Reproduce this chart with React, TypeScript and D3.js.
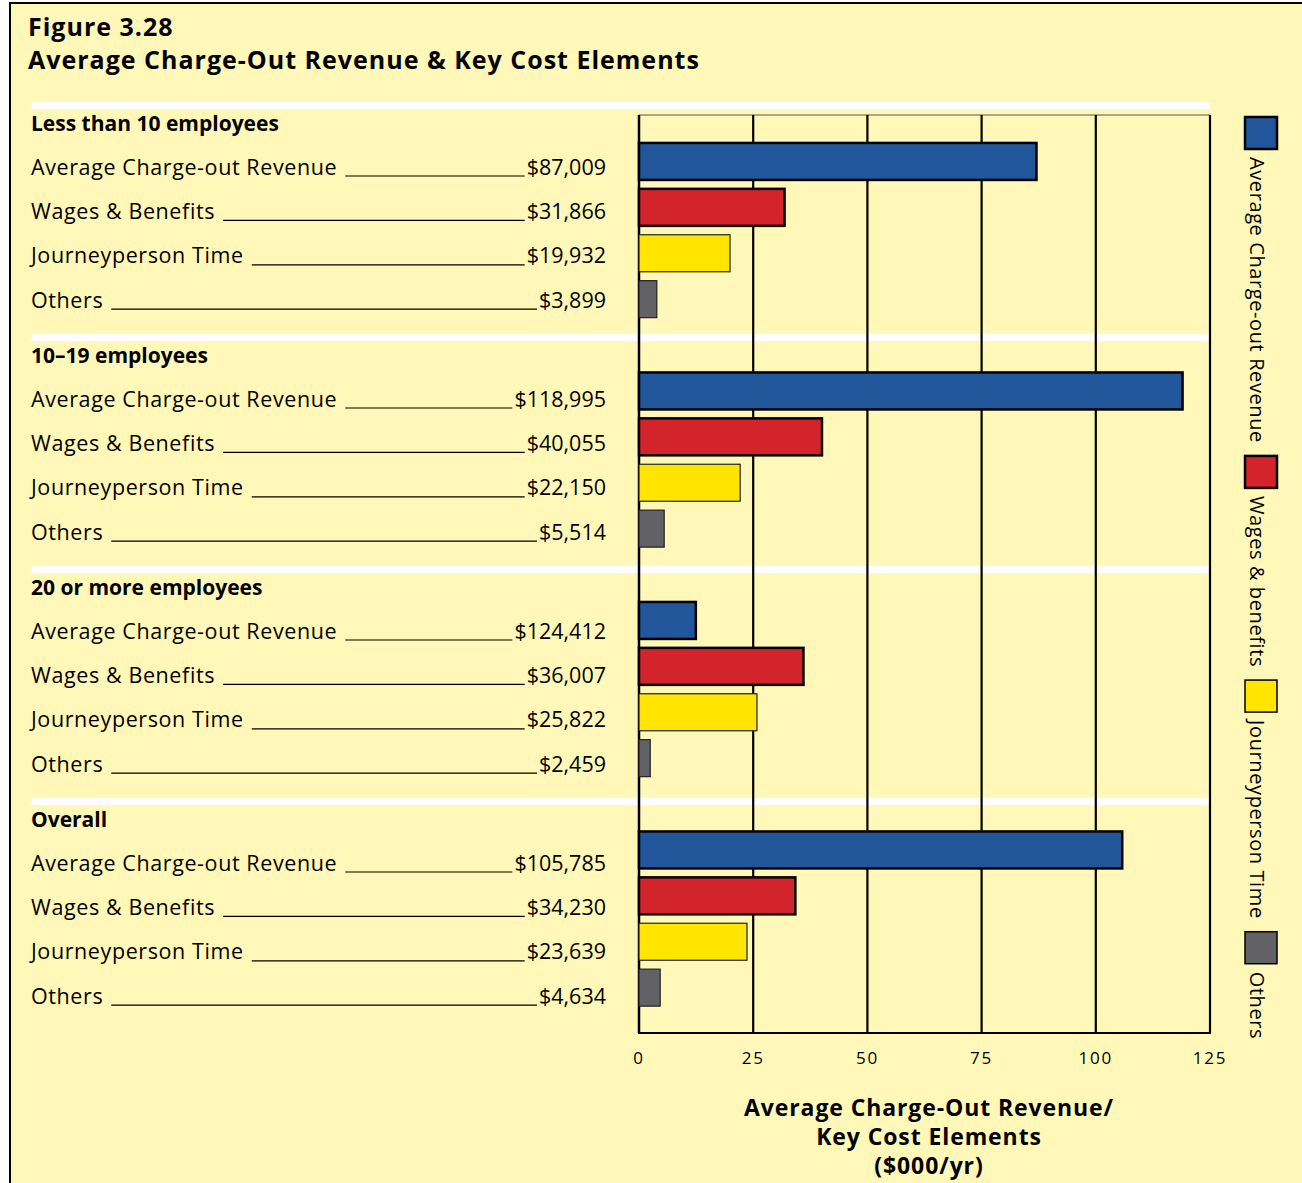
import React, { useEffect, useRef } from "react";
import * as d3 from "d3";

const groups = ["Less than 10 employees", "10–19 employees", "20 or more employees", "Overall"];
const categories = ["Average Charge-out Revenue", "Wages & Benefits", "Journeyperson Time", "Others"];
const legendLabels = ["Average Charge-out Revenue", "Wages & benefits", "Journeyperson Time", "Others"];
// printed dollar values
const valueLabels = [
  ["$87,009", "$31,866", "$19,932", "$3,899"],
  ["$118,995", "$40,055", "$22,150", "$5,514"],
  ["$124,412", "$36,007", "$25,822", "$2,459"],
  ["$105,785", "$34,230", "$23,639", "$4,634"],
];
// bar lengths as drawn ($000/yr)
const barValues = [
  [87.009, 31.866, 19.932, 3.899],
  [118.995, 40.055, 22.15, 5.514],
  [12.44, 36.007, 25.822, 2.459],
  [105.785, 34.23, 23.639, 4.634],
];
const ticks = [0, 25, 50, 75, 100, 125];
const colors = ["#22569A", "#D3232B", "#FFE500", "#616166"];
const strokeW = [2.5, 2.5, 1.2, 1.2];

const FONT = "'Open Sans', sans-serif";

export default function App() {
  const ref = useRef<SVGSVGElement>(null);
  useEffect(() => {
    const svg = d3.select(ref.current);
    svg.selectAll("*").remove();
    const W = 1302, H = 1183;
    svg.append("rect").attr("x", 0).attr("y", 0).attr("width", W).attr("height", H).attr("fill", "#fff");
    svg.append("rect").attr("x", 10).attr("y", 3).attr("width", W + 20).attr("height", H + 20)
      .attr("fill", "#FFF8B8").attr("stroke", "#000").attr("stroke-width", 2);

    // Title
    svg.append("text").attr("x", 28).attr("y", 36).attr("font-family", FONT).attr("font-weight", 700)
      .attr("font-size", 25).attr("letter-spacing", 1).text("Figure 3.28");
    svg.append("text").attr("x", 28).attr("y", 69).attr("font-family", FONT).attr("font-weight", 700)
      .attr("font-size", 25).attr("letter-spacing", 1).text("Average Charge-Out Revenue & Key Cost Elements");

    const x = d3.scaleLinear().domain([0, 125]).range([639, 1210]);
    const plotTop = 115, plotBottom = 1033;

    // white separator bands
    groups.forEach((g, gi) => {
      svg.append("rect").attr("x", 31).attr("y", 102 + gi * 232).attr("width", 1210 - 31).attr("height", 7)
        .attr("fill", "#fff");
    });

    // plot frame top thin line
    svg.append("line").attr("x1", x(0)).attr("x2", x(125)).attr("y1", plotTop).attr("y2", plotTop)
      .attr("stroke", "#555").attr("stroke-width", 1);
    // gridlines
    ticks.forEach((t) => {
      svg.append("line").attr("x1", x(t)).attr("x2", x(t)).attr("y1", plotTop).attr("y2", plotBottom)
        .attr("stroke", "#000").attr("stroke-width", t === 0 ? 2.5 : 2.2);
    });
    svg.append("line").attr("x1", x(0) - 1).attr("x2", x(125) + 1).attr("y1", plotBottom).attr("y2", plotBottom)
      .attr("stroke", "#000").attr("stroke-width", 2.2);

    // tick labels
    ticks.forEach((t) => {
      svg.append("text").attr("x", x(t)).attr("y", 1064).attr("text-anchor", "middle")
        .attr("font-family", FONT).attr("font-size", 17).attr("letter-spacing", 1.8).text(String(t));
    });

    // axis title
    ["Average Charge-Out Revenue/", "Key Cost Elements", "($000/yr)"].forEach((s, i) => {
      svg.append("text").attr("x", 929).attr("y", 1116 + i * 29).attr("text-anchor", "middle")
        .attr("font-family", FONT).attr("font-weight", 700).attr("font-size", 23).attr("letter-spacing", 0.9).text(s);
    });

    // bars
    const slots = d3.range(19);
    const yb = d3.scaleBand<number>().domain(slots).range([138.5, 138.5 + 19 * 45.9]).paddingInner(0.194).paddingOuter(0.097);
    barValues.forEach((row, gi) => {
      row.forEach((v, ci) => {
        const slot = gi * 5 + ci;
        svg.append("rect").attr("x", x(0)).attr("y", yb(slot)!).attr("width", x(v) - x(0))
          .attr("height", yb.bandwidth()).attr("fill", colors[ci])
          .attr("stroke", ci < 2 ? "#000" : "#222").attr("stroke-width", strokeW[ci]);
      });
    });

    // left text
    groups.forEach((g, gi) => {
      const base = gi * 232;
      svg.append("text").attr("x", 31).attr("y", 131 + base).attr("font-family", FONT).attr("font-weight", 700)
        .attr("font-size", 21).text(g);
      categories.forEach((c, ci) => {
        const yy = 174.5 + base + ci * 44.4;
        const lab = svg.append("text").attr("x", 31).attr("y", yy).attr("font-family", FONT)
          .attr("font-size", 21.5).attr("letter-spacing", 0.6).text(c);
        const val = svg.append("text").attr("x", 606).attr("y", yy).attr("text-anchor", "end")
          .attr("font-family", FONT).attr("font-size", 21.5).text(valueLabels[gi][ci]);
        const lw = (lab.node() as SVGTextElement).getComputedTextLength();
        const vw = (val.node() as SVGTextElement).getComputedTextLength();
        svg.append("line").attr("x1", 31 + lw + 8).attr("x2", 606 - vw - 2).attr("y1", yy + 1.5).attr("y2", yy + 1.5)
          .attr("stroke", "#000").attr("stroke-width", 1.2);
      });
    });

    // legend
    let ly = 117;
    legendLabels.forEach((s, i) => {
      svg.append("rect").attr("x", 1245).attr("y", ly).attr("width", 32).attr("height", 32)
        .attr("fill", colors[i]).attr("stroke", "#000").attr("stroke-width", i < 2 ? 2.5 : 1.5);
      const t = svg.append("text").attr("transform", `translate(1250,${ly + 40}) rotate(90)`)
        .attr("font-family", FONT).attr("font-size", 20).attr("letter-spacing", 0.6).text(s);
      const tw = (t.node() as SVGTextElement).getComputedTextLength();
      ly = ly + 40 + tw + 13;
    });
  }, []);
  return (
    <svg ref={ref} width={1302} height={1183} style={{ position: "absolute", left: 0, top: 0 }} />
  );
}
